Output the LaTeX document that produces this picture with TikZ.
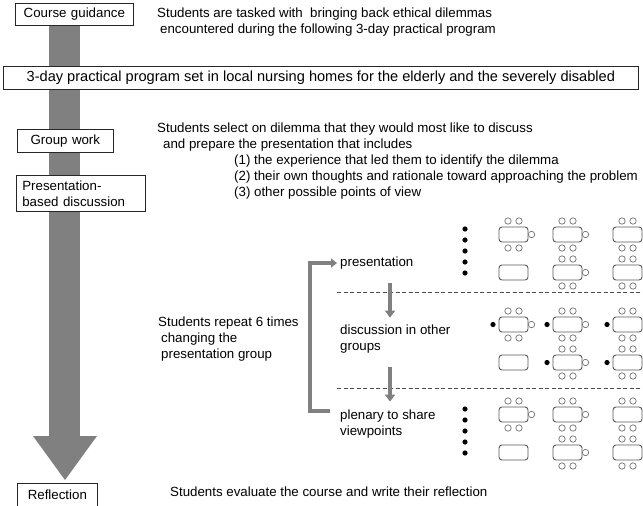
\documentclass[tikz,border=0pt]{standalone}
\usepackage{fontspec}
\setmainfont{Liberation Sans}
\usetikzlibrary{arrows.meta,calc}

\begin{document}
\begin{tikzpicture}[x=1pt,y=-1pt,font=\fontsize{13.3}{16}\selectfont,
    stage/.style={draw=black!85,line width=0.7pt,fill=white,anchor=north west,
        inner xsep=6pt,inner ysep=0pt,align=center},
    note/.style={anchor=west,inner sep=0pt,align=left},
    flow/.style={draw=black!50,line width=3.5pt,-{Triangle[length=7pt,width=10pt]}},
    divider/.style={draw=black!70,line width=0.7pt,dash pattern=on 4pt off 2.5pt},
    desk/.style={draw=black!65,line width=0.9pt,rounded corners=3pt},
    seat/.style={draw=black!55,line width=0.7pt,fill=white},
    member/.style={fill=black}]

  \useasboundingbox (0,0) rectangle (643,506);

  % big arrow down the left side
  \fill[black!50] (49,25) rectangle (80,436);
  \fill[black!50] (33,436) -- (97,436) -- (65,480) -- cycle;

  % stages
  \node[stage,text width=106pt,minimum height=22pt] (guide) at (15,3) {Course guidance};
  \node[stage,minimum width=635pt,minimum height=23pt,
    font=\fontsize{14.6}{16}\selectfont] (trip) at (3,66)
    {3-day practical program set in local nursing homes for the elderly and the severely disabled};
  \node[stage,text width=84pt,minimum height=23pt] (group) at (17,129) {Group work};
  \node[stage,text width=117pt,minimum height=36pt,align=left] (talk) at (16,175)
    {Presentation-\\based discussion};
  \node[stage,text width=68pt,minimum height=23pt] (refl) at (17,483) {Reflection};

  % notes
  \node[note] (task) at (157,22) {Students are tasked with\ \ bringing back ethical dilemmas\\
    \hspace*{3pt}encountered during the following 3-day practical program};
  \node[note,anchor=north west] (select) at (157,123)
    {Students select on dilemma that they would most like to discuss\\
    \hspace*{6pt}and prepare the presentation that includes\\
    \hspace*{77pt}(1) the experience that led them to identify the dilemma\\
    \hspace*{77pt}(2) their own thoughts and rationale toward approaching the problem\\
    \hspace*{77pt}(3) other possible points of view};
  \node[note] (repeat) at (158,339) {Students repeat 6 times\\
    \hspace*{3pt}changing the\\\hspace*{3pt}presentation group};
  \node[note] (eval) at (170,492) {Students evaluate the course and write their reflection};

  % the cycle
  \node[note] (pres) at (340,263) {presentation};
  \node[note] (disc) at (340,339) {discussion in other\\groups};
  \node[note] (plen) at (340,424) {plenary to share\\viewpoints};
  \coordinate (colx) at (390,0);
  \coordinate (sepA) at (337,292);
  \coordinate (sepB) at (337,388);
  \draw[divider] (sepA) -- (643,292);
  \draw[divider] (sepB) -- (643,388);
  \draw[flow] ($(pres.south -| colx)+(0,14)$) -- ($(disc.north -| colx)+(0,-7)$);
  \draw[flow] ($(disc.south -| colx)+(0,14)$) -- ($(plen.north -| colx)+(0,-8)$);
  \draw[draw=black!50,line width=3.5pt,-{Triangle[length=6pt,width=9pt]}]
    ($(plen.west)+(-10,-13)$) -| ($(pres.west)+(-30,0)$) -- ($(pres.west)+(-3,0)$);

  % tables
  \foreach \b/\talk in {227/0,317/1,407/0}{
    \draw[desk] (499,\b+38) rectangle ++(29,15);
    \foreach \x/\dy/\rc in {499/0/1,553/0/1,613/0/0,553/38/1,613/38/0}{
      \draw[desk] (\x,\b+\dy) rectangle ++(29,15);
      \draw[seat] (\x+9,\b+\dy-6) circle (3.2pt);
      \draw[seat] (\x+20,\b+\dy-6) circle (3.2pt);
      \draw[seat] (\x+9,\b+\dy+21) circle (3.2pt);
      \draw[seat] (\x+20,\b+\dy+21) circle (3.2pt);
      \ifnum\rc=1 \draw[seat] (\x+32.5,\b+\dy+7.5) circle (3.2pt); \fi
      \ifnum\talk=1 \fill[member] (\x-6,\b+\dy+7.5) circle (2.6pt); \fi
    }
    \ifnum\talk=0
      \foreach \k in {0,...,4} \fill[member] (465,\b+2+11*\k) circle (2.6pt);
    \fi
  }
\end{tikzpicture}
\end{document}
